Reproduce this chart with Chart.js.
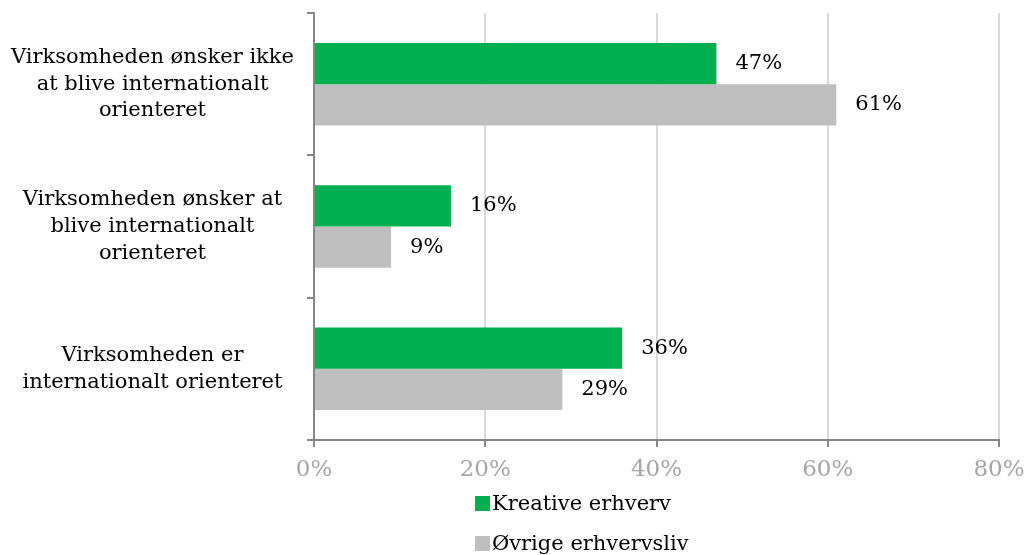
<!DOCTYPE html>
<html>
<head>
  <meta charset="UTF-8">
  <title>Internationalisering</title>
  <script src="https://cdn.jsdelivr.net/npm/chart.js"></script>
  <style>
    * { margin: 0; padding: 0; box-sizing: border-box; }
    body { background: #fff; width: 1028px; height: 555px; overflow: hidden; position: relative; }
    #wrap { position: absolute; left: 0; top: 0; width: 1028px; height: 555px; }
    #legend {
      position: absolute;
      left: 475px;
      top: 483px;
      font-family: "DejaVu Serif", serif;
      font-size: 21px;
      color: #000;
    }
    #legend div { display: flex; align-items: center; height: 40px; }
    #legend span.box { display: inline-block; width: 15px; height: 15px; margin-right: 2px; }
  </style>
</head>
<body>
  <div id="wrap"><canvas id="chart"></canvas></div>
  <div id="legend"></div>

  <script>
    const categories = [
      ['Virksomheden ønsker ikke', 'at blive internationalt', 'orienteret'],
      ['Virksomheden ønsker at', 'blive internationalt', 'orienteret'],
      ['Virksomheden er', 'internationalt orienteret']
    ];
    const seriesNames = ['Kreative erhverv', 'Øvrige erhvervsliv'];
    const kreative = [47, 16, 36];
    const oevrige = [61, 9, 29];
    const xTicks = [0, 20, 40, 60, 80];

    const GREEN = '#00b050';
    const GREY = '#bfbfbf';
    const FONT = '"DejaVu Serif", serif';

    // value labels to the right of each bar
    const valueLabels = {
      id: 'valueLabels',
      afterDatasetsDraw(chart) {
        const ctx = chart.ctx;
        ctx.save();
        ctx.font = '21px ' + FONT;
        ctx.fillStyle = '#000';
        ctx.textAlign = 'left';
        ctx.textBaseline = 'middle';
        chart.data.datasets.forEach((ds, i) => {
          chart.getDatasetMeta(i).data.forEach((bar, j) => {
            ctx.fillText(ds.data[j] + '%', bar.x + 19, bar.y);
          });
        });
        ctx.restore();
      }
    };

    const chart = new Chart(document.getElementById('chart'), {
      type: 'bar',
      data: {
        labels: categories,
        datasets: [
          { label: seriesNames[0], data: kreative, backgroundColor: GREEN },
          { label: seriesNames[1], data: oevrige, backgroundColor: GREY }
        ]
      },
      options: {
        indexAxis: 'y',
        responsive: true,
        maintainAspectRatio: false,
        animation: false,
        categoryPercentage: 0.58,
        barPercentage: 1.0,
        layout: { padding: { top: 13, right: 29, bottom: 0, left: 0 } },
        plugins: {
          legend: { display: false },
          tooltip: { enabled: false }
        },
        scales: {
          x: {
            min: 0,
            max: 80,
            afterBuildTicks(scale) { scale.ticks = xTicks.map(v => ({ value: v })); },
            afterFit(scale) {
              scale.height = 115;
              scale.paddingLeft = 0;
              scale.paddingRight = 0;
            },
            ticks: {
              callback: v => v + '%',
              color: '#a6a6a6',
              font: { family: FONT, size: 23 },
              padding: 9
            },
            grid: {
              color: '#d9d9d9',
              lineWidth: 2,
              tickColor: '#868686',
              tickLength: 7
            },
            border: { display: true, color: '#868686', width: 2 }
          },
          y: {
            afterFit(scale) {
              scale.width = 314;
              // labels sit inside their category, no extra room needed
              scale.paddingTop = 0;
              scale.paddingBottom = 0;
            },
            ticks: {
              color: '#000',
              font: { family: FONT, size: 21, lineHeight: 1.28 },
              crossAlign: 'center',
              padding: 13
            },
            grid: {
              offset: true,
              drawOnChartArea: false,
              color: '#868686',
              lineWidth: 2,
              tickLength: 7
            },
            border: { display: true, color: '#868686', width: 2 }
          }
        }
      },
      plugins: [valueLabels]
    });

    // legend stacked vertically under the axis
    const legend = document.getElementById('legend');
    chart.data.datasets.forEach(ds => {
      const row = document.createElement('div');
      row.innerHTML = '<span class="box" style="background:' + ds.backgroundColor + '"></span>' + ds.label;
      legend.appendChild(row);
    });
  </script>
</body>
</html>
